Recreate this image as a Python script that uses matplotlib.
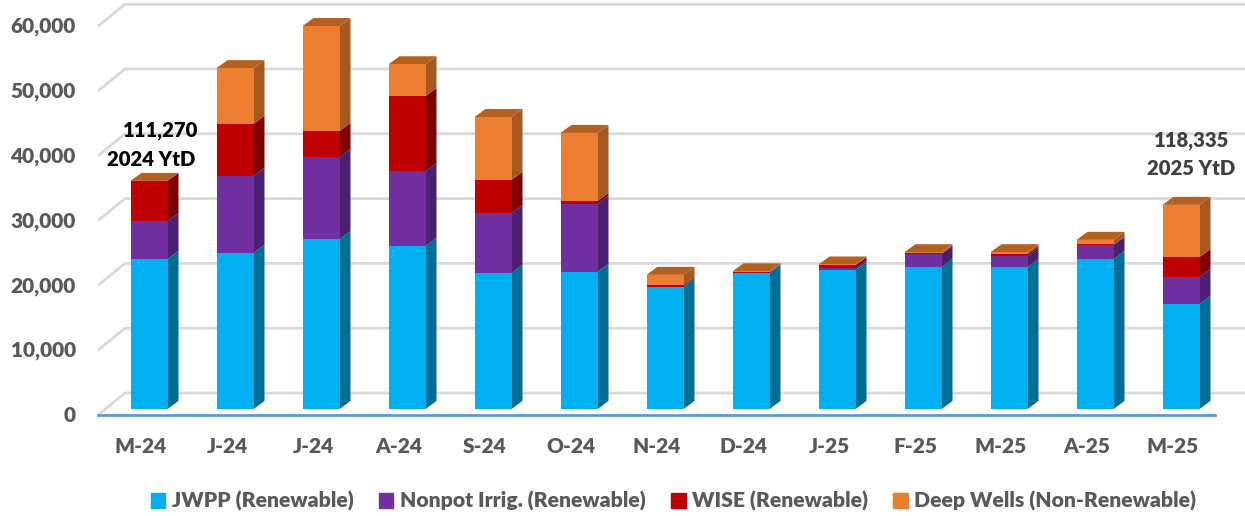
import matplotlib
matplotlib.use('Agg')
import numpy as np
import matplotlib.pyplot as plt
from matplotlib.patches import Polygon, Patch
from matplotlib.transforms import ScaledTranslation

plt.rcParams['font.family'] = ['Lato', 'DejaVu Sans']
plt.rcParams['font.weight'] = 'heavy'

months = ['M-24', 'J-24', 'J-24', 'A-24', 'S-24', 'O-24', 'N-24', 'D-24',
          'J-25', 'F-25', 'M-25', 'A-25', 'M-25']
jwpp = [23150, 24100, 26200, 25150, 21000, 21150, 18800, 21000, 21450, 21900, 21900, 23150, 16200]
nonpot = [5850, 11860, 12700, 11550, 9250, 10500, 100, 50, 300, 2000, 1700, 2150, 4170]
wise = [6200, 8040, 4000, 11600, 5100, 450, 200, 100, 450, 100, 300, 100, 3080]
deep = [0, 8600, 16200, 4900, 9710, 10500, 1600, 100, 100, 200, 300, 700, 8050]
yticks = [0, 10000, 20000, 30000, 40000, 50000, 60000]

series_names = ['JWPP (Renewable)', 'Nonpot Irrig. (Renewable)', 'WISE (Renewable)',
                'Deep Wells (Non-Renewable)']
front_cols = ['#00B0F0', '#7030A0', '#C00000', '#ED7D31']
side_cols = ['#006F96', '#4A2070', '#800000', '#A5591F']
top_col = '#B5601F'
grey = '#595959'

# pixel scale of the picture
px_w, px_h = 1245, 516
step_x = 86.0      # px between bars
step_y = 64.8      # px per 10,000
x0_px, y0_px = 149, 409   # first bar centre / bar base
left_px, bottom_px = 98, 415
ux = 1 / step_x
uy = 10000 / step_y

fig = plt.figure(figsize=(px_w / 100, px_h / 100), dpi=100)
ax = fig.add_axes([left_px / px_w, (px_h - bottom_px) / px_h,
                   (px_w - left_px) / px_w, bottom_px / px_h])
ax.set_xlim((left_px - x0_px) * ux, (px_w - x0_px) * ux)
ax.set_ylim((y0_px - bottom_px) * uy, y0_px * uy)

# back wall lines and the little floor diagonals
xl = ax.get_xlim()
floor = (y0_px - bottom_px) * uy
wall_dx, wall_dy = 27 * ux, 22 * uy
for v in yticks:
    ax.plot([xl[0], xl[0] + wall_dx, xl[1]],
            [v + floor, v + floor + wall_dy, v + floor + wall_dy],
            color='#D9D9D9', lw=2, zorder=1, solid_capstyle='butt')

# 3D looking stacked bars
x = np.arange(len(months))
width = 37 * ux
dx, dy = 11 * ux, 8 * uy
bottom = np.zeros(len(months))
for vals, fc, sc, name in zip([jwpp, nonpot, wise, deep], front_cols, side_cols, series_names):
    vals = np.array(vals)
    ax.bar(x, vals, width, bottom=bottom, color=fc, zorder=3)
    for xi, b, v in zip(x, bottom, vals):
        r = xi + width / 2
        ax.add_patch(Polygon([(r, b), (r + dx, b + dy), (r + dx, b + v + dy), (r, b + v)],
                             closed=True, fc=sc, ec='none', zorder=2.5))
    bottom = bottom + vals
for xi, t in zip(x, bottom):
    l, r = xi - width / 2, xi + width / 2
    ax.add_patch(Polygon([(l, t), (r, t), (r + dx, t + dy), (l + dx, t + dy)],
                         closed=True, fc=top_col, ec='none', zorder=2.6))

# axes
for s in ['top', 'left', 'right']:
    ax.spines[s].set_visible(False)
ax.spines['bottom'].set_color('#5B9BD5')
ax.spines['bottom'].set_linewidth(2)
ax.spines['bottom'].set_bounds(xl[0], (1215 - x0_px) * ux)
ax.set_xticks(x)
ax.set_xticklabels(months)
ax.set_yticks(yticks)
ax.set_yticklabels(['{:,}'.format(v) for v in yticks])
ax.tick_params(axis='x', length=0, pad=15.5, labelsize=15, labelcolor=grey)
ax.tick_params(axis='y', length=0, pad=16, labelsize=15, labelcolor=grey)
for lab in ax.get_xticklabels():
    lab.set_transform(lab.get_transform() + ScaledTranslation(-8 / 100, 0, fig.dpi_scale_trans))
for lab in ax.get_yticklabels():
    lab.set_transform(lab.get_transform() + ScaledTranslation(0, -5 / 100, fig.dpi_scale_trans))

# YtD notes
ax.text(0.14, 43050, '111,270', ha='center', va='center', fontsize=14.6, color='black', zorder=5)
ax.text(0.02, 38580, '2024 YtD', ha='center', va='center', fontsize=14.6, color='black', zorder=5)
ax.text(12.12, 41500, '118,335', ha='center', va='center', fontsize=14.6, color='#404040', zorder=5)
ax.text(12.12, 37190, '2025 YtD', ha='center', va='center', fontsize=14.6, color='#404040', zorder=5)

handles = [Patch(color=c, label=n) for c, n in zip(front_cols, series_names)]
fig.legend(handles=handles, loc='center', bbox_to_anchor=(673.5 / px_w, 1 - 501 / px_h), ncol=4,
           frameon=False, fontsize=15.2, labelcolor=grey, handlelength=0.7, handleheight=0.7,
           handletextpad=0.3, columnspacing=1.2, borderpad=0)

fig.savefig('out.png', dpi=100)
